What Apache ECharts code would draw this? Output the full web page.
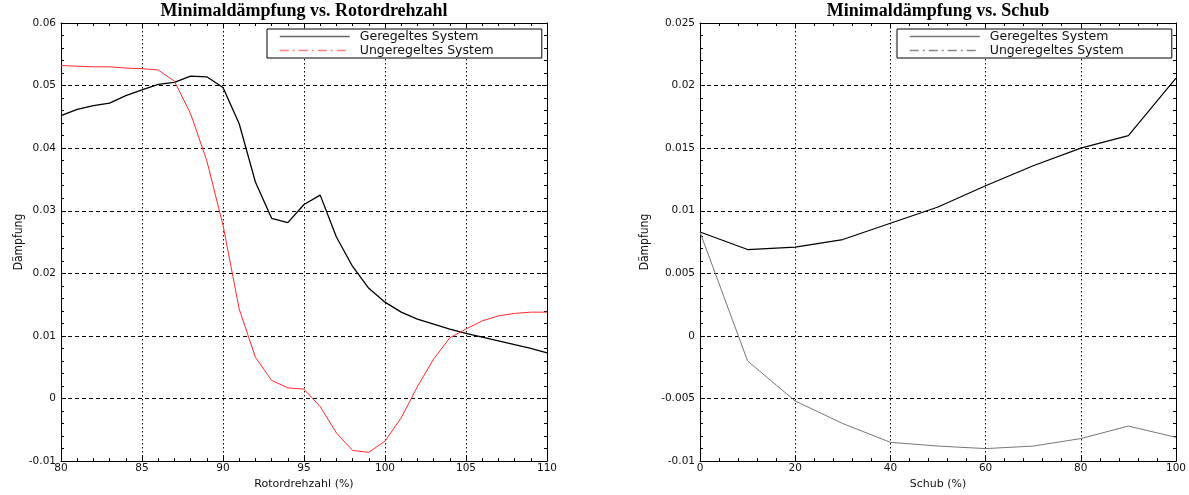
<!DOCTYPE html>
<html><head><meta charset="utf-8">
<script src="https://cdn.jsdelivr.net/npm/echarts@6/dist/echarts.min.js"></script>
<style>html,body{margin:0;padding:0;background:#fff}#c{width:1189px;height:495px}</style>
</head><body><div id="c"></div><script>
// ---- data ----
const rotorX = [80,81,82,83,84,85,86,87,88,89,90,91,92,93,94,95,96,97,98,99,100,101,102,103,104,105,106,107,108,109,110];
const rotorGeregelt = [0.0452,0.0462,0.0468,0.0472,0.0484,0.0493,0.0502,0.0505,0.0515,0.0514,0.0497,0.0439,0.0346,0.0288,0.0281,0.0310,0.0325,0.0258,0.0211,0.0176,0.0154,0.0138,0.0127,0.0119,0.0111,0.0104,0.0098,0.0092,0.0086,0.0080,0.0073];
const rotorUngeregelt = [0.0532,0.0531,0.0530,0.0530,0.0528,0.0527,0.0525,0.0507,0.0455,0.0380,0.0277,0.0143,0.0066,0.0029,0.0017,0.0015,-0.0013,-0.0055,-0.0083,-0.0086,-0.0068,-0.0031,0.0019,0.0063,0.0097,0.0111,0.0124,0.0132,0.0136,0.0138,0.0138];
const schubX = [0,10,20,30,40,50,60,70,80,90,100];
const schubGeregelt = [0.0083,0.0069,0.0071,0.0077,0.0090,0.0103,0.0120,0.0136,0.0150,0.0160,0.0206];
const schubUngeregelt = [0.0083,-0.0020,-0.0052,-0.0070,-0.0085,-0.0088,-0.0090,-0.0088,-0.0082,-0.0072,-0.0081];
const rotorXTicks = [80,85,90,95,100,105,110];
const rotorYTicks = [-0.01,0,0.01,0.02,0.03,0.04,0.05,0.06];
const schubXTicks = [0,20,40,60,80,100];
const schubYTicks = [-0.01,-0.005,0,0.005,0.01,0.015,0.02,0.025];
const titles = ['Minimaldämpfung vs. Rotordrehzahl','Minimaldämpfung vs. Schub'];
const xNames = ['Rotordrehzahl (%)','Schub (%)'];
const yName = 'Dämpfung';
const seriesNames = ['Geregeltes System','Ungeregeltes System'];

// ---- chart ----
const SANS = 'DejaVu Sans, Liberation Sans, sans-serif';
const NARROW = 'Liberation Sans Narrow, DejaVu Sans Condensed, Liberation Sans, sans-serif';
const fmt = v => String(parseFloat(v.toFixed(4)));
const grids = [
  {left:61, top:23, width:486, height:444},
  {left:700, top:23, width:477, height:444}
];
function xAxes(gi, ticks, name){
  const base = {type:'value', gridIndex:gi, min:ticks[0], max:ticks[ticks.length-1], interval:ticks[1]-ticks[0],
    axisLine:{onZero:false, lineStyle:{color:'#000', width:1}},
    axisTick:{inside:true, length:5, lineStyle:{color:'#000'}},
    minorTick:{show:true, splitNumber:5, length:3, lineStyle:{color:'#000'}}};
  return [
    Object.assign({}, base, {position:'bottom', name:name, nameLocation:'middle', nameGap:13,
      nameTextStyle:{fontFamily:SANS, fontSize:11, color:'#111'},
      axisLabel:{fontFamily:SANS, fontSize:10.5, color:'#111', margin:2, formatter:fmt},
      splitLine:{show:true, lineStyle:{color:'#000', width:1, type:[1.5,2.5]}}}),
    Object.assign({}, base, {position:'top', axisLabel:{show:false}, splitLine:{show:false}})
  ];
}
function yAxes(gi, ticks, gap){
  const base = {type:'value', gridIndex:gi, min:ticks[0], max:ticks[ticks.length-1], interval:ticks[1]-ticks[0],
    axisLine:{onZero:false, show:true, lineStyle:{color:'#000', width:1}},
    axisTick:{show:true, inside:true, length:5, lineStyle:{color:'#000'}},
    minorTick:{show:true, splitNumber:5, length:3, lineStyle:{color:'#000'}}};
  return [
    Object.assign({}, base, {position:'left', name:yName, nameLocation:'middle', nameRotate:90, nameGap:gap,
      nameTextStyle:{fontFamily:NARROW, fontSize:12, color:'#111'},
      axisLabel:{fontFamily:SANS, fontSize:10.5, color:'#111', margin:5, formatter:fmt},
      splitLine:{show:true, lineStyle:{color:'#000', width:1, type:[4,3]}}}),
    Object.assign({}, base, {position:'right', axisLabel:{show:false}, splitLine:{show:false}})
  ];
}
const xA = xAxes(0, rotorXTicks, xNames[0]).concat(xAxes(1, schubXTicks, xNames[1]));
const yA = yAxes(0, rotorYTicks, 30).concat(yAxes(1, schubYTicks, 49));

function pairs(xs, ys){ return xs.map((x,i)=>[x, ys[i]]); }
const series = [
  {name:'L|'+seriesNames[0], type:'line', xAxisIndex:0, yAxisIndex:0, symbol:'none', data:pairs(rotorX, rotorGeregelt),
    lineStyle:{color:'#000', width:1.3}, itemStyle:{color:'#000'}, z:3},
  {name:'L|'+seriesNames[1], type:'line', xAxisIndex:0, yAxisIndex:0, symbol:'none', data:pairs(rotorX, rotorUngeregelt),
    lineStyle:{color:'#ff2a2a', width:1}, itemStyle:{color:'#ff2a2a'}, z:3},
  {name:'R|'+seriesNames[0], type:'line', xAxisIndex:2, yAxisIndex:2, symbol:'none', data:pairs(schubX, schubGeregelt),
    lineStyle:{color:'#000', width:1.2}, itemStyle:{color:'#000'}, z:3},
  {name:'R|'+seriesNames[1], type:'line', xAxisIndex:2, yAxisIndex:2, symbol:'none', data:pairs(schubX, schubUngeregelt),
    lineStyle:{color:'#777', width:1}, itemStyle:{color:'#777'}, z:3}
];
const hidden = {color:'rgba(0,0,0,0)', borderColor:'rgba(0,0,0,0)', borderWidth:0, opacity:0};
function legend(left, prefix, c1, c2){
  return {left:left, top:29, orient:'vertical', selectedMode:false, itemWidth:70, itemHeight:10, itemGap:1,
    padding:[1,48,1,12], borderColor:'#000', borderWidth:1, backgroundColor:'#fff', z:10,
    textStyle:{fontFamily:SANS, fontSize:12.5, color:'#111', lineHeight:12, padding:[0,0,0,5]},
    formatter: n => n.slice(2),
    data:[
      {name:prefix+seriesNames[0], lineStyle:{color:c1, width:1.5, type:'solid'}, itemStyle:hidden},
      {name:prefix+seriesNames[1], lineStyle:{color:c2, width:1.5, type:[9,4,2,4]}, itemStyle:hidden}
    ]};
}
const option = {
  animation:false,
  backgroundColor:'#fff',
  title: titles.map((t,i)=>({text:t, left: i===0 ? 304 : 938, top:2, textAlign:'center', padding:0,
    textStyle:{fontFamily:'Liberation Serif, Times New Roman, serif', fontWeight:'bold', fontSize:18, color:'#000'}})),
  grid: grids,
  xAxis: xA,
  yAxis: yA,
  legend: [legend(267, 'L|', '#666', '#ff8080'), legend(897, 'R|', '#777', '#888')],
  series: series
};
echarts.init(document.getElementById('c'), null, {renderer:'canvas'}).setOption(option);
</script></body></html>
